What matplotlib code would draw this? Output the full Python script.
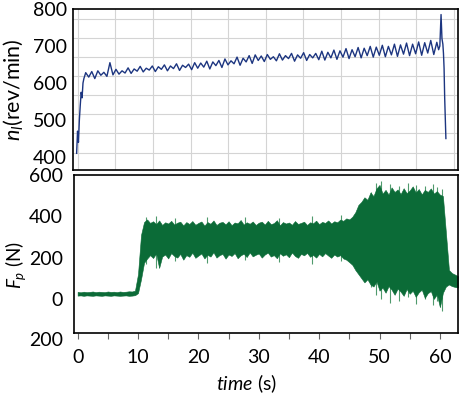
import numpy as np
import matplotlib
matplotlib.use("Agg")
import matplotlib.pyplot as plt
import matplotlib.transforms as mtransforms

plt.rcParams['font.family'] = ['Lato', 'DejaVu Sans']
plt.rcParams['mathtext.fontset'] = 'custom'
plt.rcParams['mathtext.rm'] = 'Lato'
plt.rcParams['mathtext.it'] = 'Lato:italic'

# ---- top panel: rotational speed n_l (rev/min) ----
t_top_start = [0, 0.15, 0.3, 0.45, 0.6, 0.75, 0.9, 1.05, 1.2]
n_top_start = [410, 470, 440, 500, 540, 575, 560, 600, 612]

# read every 0.5 s from 1.5 s to 59.5 s
n_top_mid = [
    628, 616, 631, 612, 633, 621, 629, 618, 655, 622, 637, 624, 633, 627, 641, 626, 638, 632,
    645, 630, 640, 635, 646, 631, 644, 637, 649, 633, 646, 639, 652, 634, 648, 642, 651, 636, 655, 640,
    654, 643, 659, 638, 657, 647, 661, 642, 665, 649, 660, 652, 670, 648, 667, 657, 674, 653, 676, 661,
    673, 658, 677, 664, 671, 660, 679, 662, 674, 666, 680, 659, 676, 667, 682, 661, 677, 668, 680, 663,
    686, 662, 683, 668, 689, 664, 687, 670, 693, 666, 690, 671, 696, 668, 694, 674, 699, 670, 697, 675,
    702, 671, 699, 676, 705, 672, 703, 678, 708, 674, 705, 679, 711, 675, 709, 681, 715, 677, 710,
]

t_top_end = [59.8, 60.0, 60.2, 60.35, 60.5, 60.6, 60.7, 60.8, 60.9, 61.0]
n_top_end = [690, 700, 785, 720, 705, 680, 640, 560, 500, 450]

# ---- bottom panel: force F_p (N), envelope read every 0.5 s ----
f_upper = [
    34, 32, 35, 33, 34, 36, 33, 35, 34, 33, 36, 34, 35, 33, 36, 34, 35, 37, 36, 40,
    120, 310, 372, 385,
    368, 376, 362, 380, 358, 371, 365, 378, 360, 369, 374, 356, 372, 363, 377, 359,
    368, 375, 355, 372, 364, 380, 358, 369, 373, 361, 376, 357, 370, 366, 382, 360, 371, 364, 375, 358,
    369, 374, 360, 378, 362, 367, 381, 356, 372, 365, 370, 359, 377, 363, 368, 374, 358, 371, 366, 379,
    362, 373, 368, 380, 365, 376, 371, 384, 378, 390, 385, 398, 420, 455,
    470, 492, 480, 515, 498, 535, 552, 510, 528, 505, 540, 518, 530, 508, 536, 512, 525, 545, 515, 532,
    506, 528, 518, 535, 510, 522, 505, 498,
    320, 140, 125, 118, 110,
]
f_lower = [
    16, 17, 15, 17, 16, 15, 17, 16, 15, 17, 16, 15, 17, 16, 15, 16, 17, 15, 16, 18,
    28, 95, 175, 195,
    212, 198, 220, 150, 205, 215, 196, 222, 208, 200, 218, 190, 212, 204, 224, 199,
    210, 220, 196, 214, 205, 226, 200, 212, 218, 195, 215, 208, 222, 197, 211, 219, 203, 225, 206, 214,
    220, 200, 215, 224, 205, 212, 197, 221, 209, 216, 202, 225, 208, 199, 218, 211, 223, 204, 213, 200,
    218, 206, 222, 210, 199, 215, 205, 212, 196, 190, 178, 165, 140, 120,
    100, 80, 95, 70, 60, 85, 40, 55, 30, 62, 45, 20, 50, 35, 15, 48, 25, 40, 10, 32,
    45, 5, 28, 38, 0, 22, -40, 30,
    60, 70, 62, 58, 55,
]

# lighter single spikes sticking out of the band
spike_t = [11.3, 13.0, 16.2, 21.5, 27.8, 33.4, 38.9, 43.6, 48.6, 49.4, 50.3, 51.8, 53.2, 54.7, 56.1, 57.5, 58.8, 59.6, 60.4]
spike_lo = [170, 150, 185, 175, 190, 180, 170, 185, 60, 20, 0, -20, -10, 10, -25, 0, -30, -10, -60]
spike_hi = [395, 400, 392, 395, 398, 390, 400, 405, 520, 560, 570, 555, 548, 560, 552, 545, 558, 540, 530]

xticks = [0, 10, 20, 30, 40, 50, 60]
top_yticks = [400, 500, 600, 700, 800]
bot_yticks = [0, 200, 400, 600]

t_top = np.concatenate([t_top_start, np.arange(1.5, 59.51, 0.5), t_top_end])
n_top = np.array(n_top_start + n_top_mid + n_top_end)
t_env = np.arange(0, 63.01, 0.5)

W, H = 463, 394
fig = plt.figure(figsize=(W / 100, H / 100), dpi=100)
ax1 = fig.add_axes([73 / W, 1 - 170 / H, 385 / W, 161 / H])
ax2 = fig.add_axes([74 / W, 1 - 333 / H, 384 / W, 158 / H])

# top
for g in np.linspace(412, 774, 8):
    ax1.axhline(g, color='#d4d4d4', lw=0.8, zorder=0)
for g in np.linspace(0.2, 62.3, 11):
    ax1.axvline(g, color='#d4d4d4', lw=0.8, zorder=0)
ax1.plot(t_top, n_top, color='#1c3580', lw=1.0)
ax1.set_xlim(-0.6, 63)
ax1.set_ylim(365, 800)
ax1.set_yticks(top_yticks)
ax1.set_xticks([])
ax1.tick_params(axis='y', length=0, pad=4.5, labelsize=14)
ax1.set_ylabel(r'$n_l$(rev/min)', fontsize=15.5)
ax1.yaxis.set_label_coords(-0.125, 0.5)

# bottom
ax2.vlines(spike_t, spike_lo, spike_hi, color='#4f9a6d', lw=0.8, zorder=1)
ax2.fill_between(t_env, f_lower, f_upper, color='#0b6b37', lw=0.4, edgecolor='#0b6b37', zorder=2)
ax2.set_xlim(-0.6, 63)
ax2.set_ylim(-165, 600)
ax2.set_yticks(bot_yticks)
ax2.set_xticks(xticks)
ax2.set_xticks([5, 15, 25, 35, 45, 55], minor=True)
ax2.tick_params(axis='y', length=0, pad=8, labelsize=14)
ax2.tick_params(axis='x', which='both', length=4.5, width=0.8, color='#666666', pad=7, labelsize=14)
trans = mtransforms.blended_transform_factory(ax2.transAxes, ax2.transData)
ax2.text(-0.028, -200, '200', transform=trans, ha='right', va='center', fontsize=14, clip_on=False)
ax2.set_ylabel(r'$F_p$ (N)', fontsize=13.5)
ax2.yaxis.set_label_coords(-0.12, 0.43)
ax2.set_xlabel(r'$time$ (s)', fontsize=14)
ax2.xaxis.set_label_coords(0.45, -0.25)

for ax in (ax1, ax2):
    for s in ax.spines.values():
        s.set_linewidth(1.2)
        s.set_color('black')

fig.savefig('out.png', dpi=100)
